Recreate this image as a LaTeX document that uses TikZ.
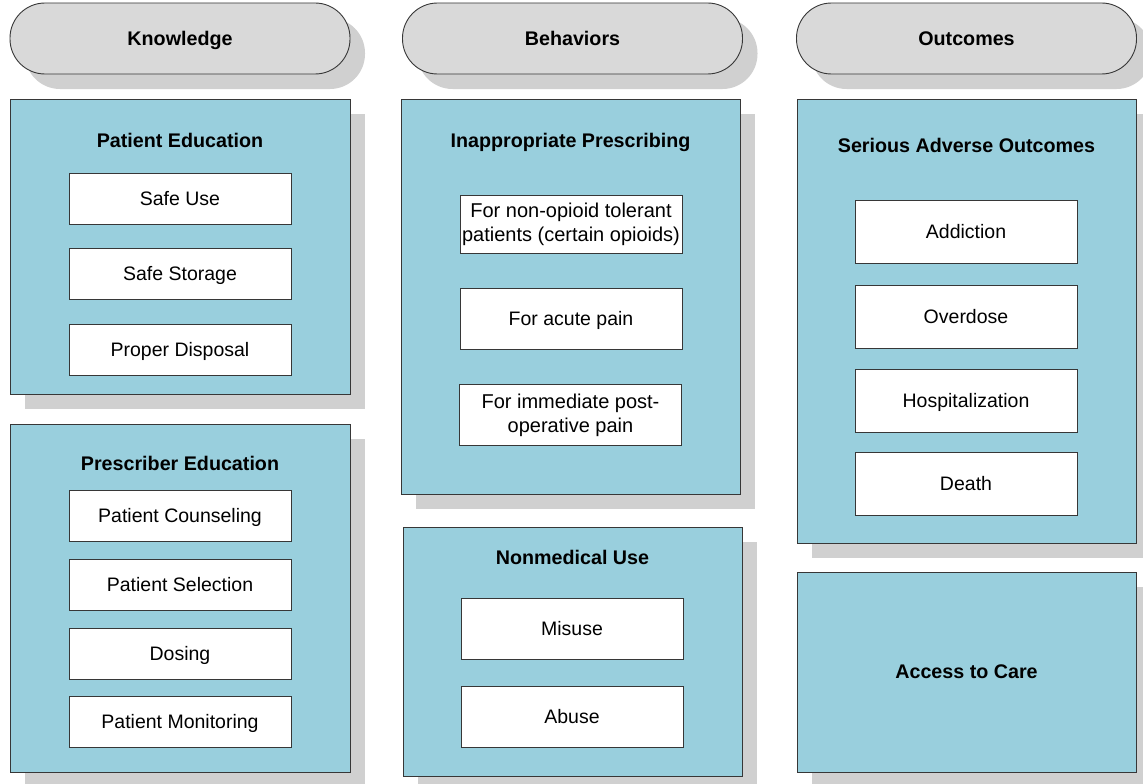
\documentclass[tikz,border=0pt]{standalone}
\usepackage{fontspec}
\setmainfont{Liberation Sans}
\usepackage{tikz}
\usetikzlibrary{shadows}

\definecolor{panelblue}{RGB}{153,207,221}
\definecolor{pillgrey}{RGB}{217,217,217}
\definecolor{shadegrey}{RGB}{208,208,208}
\definecolor{edgegrey}{RGB}{55,55,55}

\begin{document}
\begin{tikzpicture}[x=1pt, y=-1pt,
    every node/.style={font=\fontsize{19.5}{24}\selectfont, inner sep=0pt, align=center, line width=0.9pt},
    boxshadow/.style={drop shadow={shadow xshift=15pt, shadow yshift=-15pt, fill=shadegrey, opacity=1}},
    heading/.style={font=\fontsize{19.7}{24}\selectfont\bfseries, text height=13.9pt, text depth=0pt},
    pill/.style={heading, draw=edgegrey, fill=pillgrey, rounded corners=35pt,
        minimum width=340pt, minimum height=71pt, boxshadow},
    panel/.style={draw=edgegrey, fill=panelblue, minimum width=339pt, boxshadow},
    item/.style={draw=edgegrey, fill=white, minimum width=222pt, text height=13.9pt, text depth=0pt},
    itemtwo/.style={draw=edgegrey, fill=white, minimum width=222pt, font=\fontsize{20}{24}\selectfont}]
    \useasboundingbox (0,0) rectangle (1143,784);

    % column headers
    \node[pill] (know) at (180,38.5) {Knowledge};
    \node[pill] (behav) at (572.5,38.5) {Behaviors};
    \node[pill] (outc) at (966.5,38.5) {Outcomes};

    % knowledge
    \node[panel, minimum width=340pt, minimum height=295pt] (patedu) at (180,246.5) {};
    \node[heading] (patedu-t) at (180,141) {Patient Education};
    \foreach \nm/\y/\txt in {safeuse/198.5/Safe Use, safestore/274/Safe Storage, disposal/349.5/Proper Disposal}
        \node[item, minimum height=51pt] (\nm) at (180,\y) {\txt};

    \node[panel, minimum width=340pt, minimum height=348pt] (presedu) at (180,598) {};
    \node[heading] (presedu-t) at (180,464) {Prescriber Education};
    \foreach \nm/\y/\txt in {counsel/515.5/Patient Counseling, select/584.5/Patient Selection,
                            dosing/653.5/Dosing, monitor/721.5/Patient Monitoring}
        \node[item, minimum height=51pt] (\nm) at (180,\y) {\txt};

    % behaviors
    \node[panel, minimum height=395pt] (inapp) at (570.5,296.5) {};
    \node[heading] (inapp-t) at (570.5,141) {Inappropriate Prescribing};
    \node[itemtwo, minimum height=58pt] (tolerant) at (571,224.5) {For non-opioid tolerant\\patients (certain opioids)};
    \node[item, minimum height=61pt] (acute) at (571,318.5) {For acute pain};
    \node[itemtwo, minimum height=61pt] (postop) at (570.5,415) {For immediate post-\\operative pain};

    \node[panel, minimum height=249pt] (nonmed) at (572.5,651.5) {};
    \node[heading] (nonmed-t) at (572.5,558) {Nonmedical Use};
    \node[item, minimum height=61pt] (misuse) at (572,628.5) {Misuse};
    \node[item, minimum height=61pt] (abuse) at (572,716.5) {Abuse};

    % outcomes
    \node[panel, minimum height=444pt] (serious) at (966.5,321) {};
    \node[heading] (serious-t) at (966.5,146) {Serious Adverse Outcomes};
    \foreach \nm/\y/\txt in {addict/231.5/Addiction, overdose/316.5/Overdose,
                            hosp/400.5/Hospitalization, death/483.5/Death}
        \node[item, minimum height=63pt] (\nm) at (966,\y) {\txt};

    \node[panel, heading, minimum height=200pt] (access) at (966.5,672) {Access to Care};
\end{tikzpicture}
\end{document}
